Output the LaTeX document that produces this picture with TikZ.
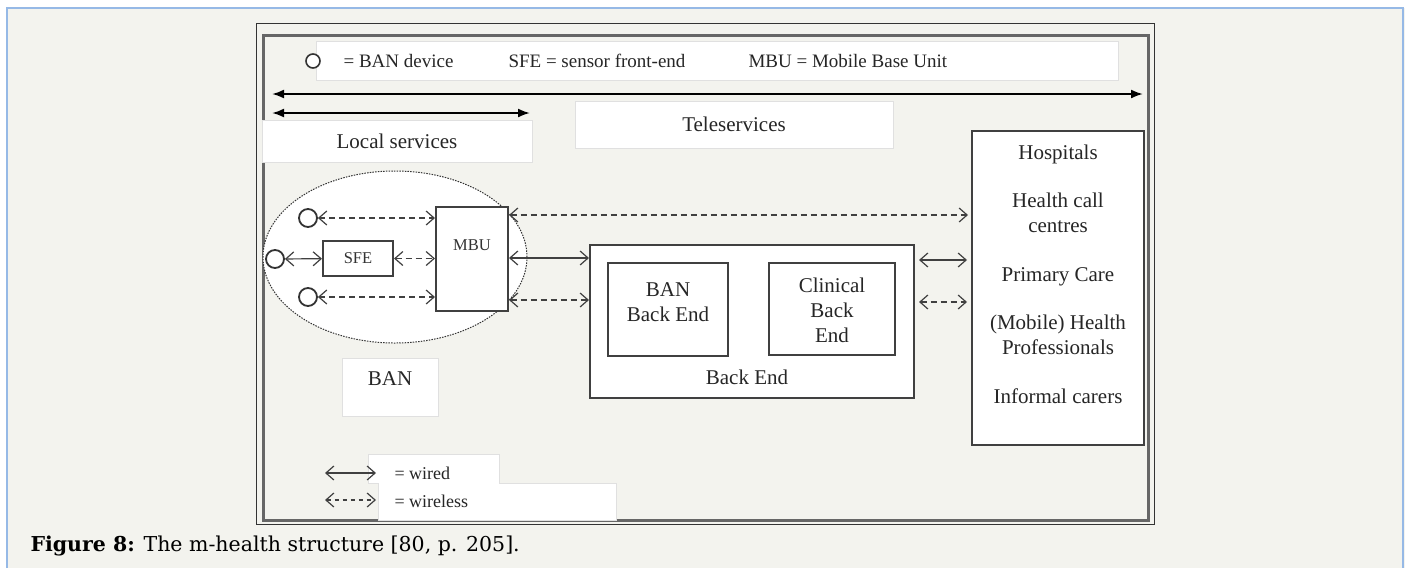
\documentclass[tikz,border=0pt]{standalone}
\usepackage{fontspec}
\setmainfont{Liberation Serif}
\newfontfamily\capfont{DejaVu Serif}
\usetikzlibrary{arrows.meta,positioning,calc}
\definecolor{pagebg}{RGB}{243,243,238}
\definecolor{rulecol}{RGB}{150,185,230}
\tikzset{
  box/.style={draw=black!75, line width=2pt, fill=white, inner sep=0pt},
  whitebox/.style={draw=black!12, line width=0.8pt, fill=white, inner sep=0pt},
  bandev/.style={draw=black!80, line width=1.8pt, fill=white, circle, minimum size=18pt, inner sep=0pt},
  wire/.style={line width=1.2pt, draw=black!75, {Straight Barb[length=8pt,width=14pt]}-{Straight Barb[length=8pt,width=14pt]}},
  wless/.style={wire, dash pattern=on 6pt off 4pt},
  span/.style={line width=2pt, {Latex[length=12pt,width=9pt]}-{Latex[length=12pt,width=9pt]}},
  lbl/.style={font=\fontsize{21}{25}\selectfont, text=black!85, align=center},
  keytxt/.style={font=\fontsize{19}{23}\selectfont, text=black!85, anchor=west},
  smalltxt/.style={font=\fontsize{16.5}{20}\selectfont, text=black!80},
}
\begin{document}
\begin{tikzpicture}[x=1pt,y=-1pt]
    % page and frame
    \fill[white] (0,0) rectangle (1405,568);
    \fill[pagebg] (7,8) rectangle (1405,568);
    \draw[rulecol, line width=1.5pt] (7,568) -- (7,8) -- (1403,8) -- (1403,568);
    \useasboundingbox (0,0) rectangle (1405,568);
    \draw[black!80, line width=1pt] (256,23) rectangle (1154,524);
    \draw[black!60, line width=3pt] (263,35) rectangle (1148,520);

    % key at the top
    \node[whitebox, minimum width=802pt, minimum height=39pt] (key) at (717,60.5) {};
    \node[bandev, minimum size=14pt, line width=1.6pt] (keydev) at (313,61) {};
    \node[keytxt] (k1) at (340,61) {= BAN device};
    \node[keytxt] (k2) at (505,61) {SFE = sensor front-end};
    \node[keytxt] (k3) at (745,61) {MBU = Mobile Base Unit};

    % service ranges
    \coordinate (allL) at (272,94);
    \coordinate (allR) at (1143,94);
    \coordinate (locL) at (272,113);
    \coordinate (locR) at (530,113);
    \draw[span] (allL) -- (allR);
    \draw[span] (locL) -- (locR);
    \node[whitebox, minimum width=270pt, minimum height=42pt] (local) at (397,141) {};
    \node[lbl] at (local) {Local services};
    \node[whitebox, minimum width=318pt, minimum height=47pt] (tele) at (734,124.5) {};
    \node[lbl] at (tele) {Teleservices};

    % body area network
    \draw[draw=black!80, fill=white, line width=1pt, dash pattern=on 1.5pt off 1.2pt] (395,257) ellipse [x radius=132, y radius=86];
    \node[box, minimum width=72pt, minimum height=104pt] (mbu) at (472,259) {};
    \node[smalltxt] at (472,245) {MBU};
    \node[box, minimum width=70pt, minimum height=35pt] (sfe) at (358,258.5) {};
    \node[smalltxt] at (sfe) {SFE};
    \node[bandev] (d1) at (308,218) {};
    \node[bandev] (d2) at (275,259) {};
    \node[bandev] (d3) at (308,297) {};
    \draw[wless] (d1) -- (d1 -| mbu.west);
    \draw[wire] (d2) -- (sfe);
    \draw[wless] (sfe) -- (sfe -| mbu.west);
    \draw[wless] (d3) -- (d3 -| mbu.west);
    \node[whitebox, minimum width=96pt, minimum height=58pt] (banbox) at (390,387) {};
    \node[lbl] at (390,379) {BAN};

    % back end
    \node[box, minimum width=324pt, minimum height=153pt] (be) at (752,321.5) {};
    \node[box, minimum width=120pt, minimum height=93pt] (banbe) at (668,309.5) {};
    \node[lbl] at (668,302.5) {BAN\\Back End};
    \node[box, minimum width=126pt, minimum height=92pt] (clinbe) at (832,309) {};
    \node[lbl] at (832,310) {Clinical\\Back\\End};
    \node[lbl] at (747,377) {Back End};

    % care providers
    \node[box, minimum width=172pt, minimum height=314pt] (hosp) at (1058,288) {};
    \node[lbl] at (1058,274) {Hospitals\\[23.5pt] Health call\\centres\\[23.5pt] Primary Care\\[23.5pt] (Mobile) Health\\Professionals\\[23.5pt] Informal carers};

    % links out of the MBU and the back end
    \coordinate (r1) at (0,215);
    \coordinate (r2) at (0,258);
    \coordinate (r3) at (0,300);
    \coordinate (r4) at (0,260);
    \coordinate (r5) at (0,302);
    \draw[wless, shorten >=3pt] (mbu.east |- r1) -- (hosp.west |- r1);
    \draw[wire] (mbu.east |- r2) -- (be.west |- r2);
    \draw[wless] (mbu.east |- r3) -- (be.west |- r3);
    \draw[wire, shorten <=4pt, shorten >=4pt] (be.east |- r4) -- (hosp.west |- r4);
    \draw[wless, shorten <=4pt, shorten >=4pt] (be.east |- r5) -- (hosp.west |- r5);

    % key at the bottom
    \draw[whitebox] (368,454) -- (499,454) -- (499,483) -- (616,483) -- (616,520) -- (378,520) -- (378,483) -- (368,483) -- cycle;
    \coordinate (kw1) at (325,473);
    \coordinate (kw2) at (376,473);
    \coordinate (kl1) at (325,500);
    \coordinate (kl2) at (376,500);
    \draw[wire] (kw1) -- (kw2);
    \draw[wless, dash pattern=on 4pt off 4pt] (kl1) -- (kl2);
    \node[keytxt, font=\fontsize{18}{22}\selectfont] (kt1) at (391,473) {= wired};
    \node[keytxt, font=\fontsize{18}{22}\selectfont] (kt2) at (391,501) {= wireless};

    % caption
    \node[anchor=west, font=\capfont\fontsize{20.5}{24}\selectfont] (cap) at (27,546) {\textbf{Figure 8:} The m-health structure [80, p. 205].};
\end{tikzpicture}
\end{document}
